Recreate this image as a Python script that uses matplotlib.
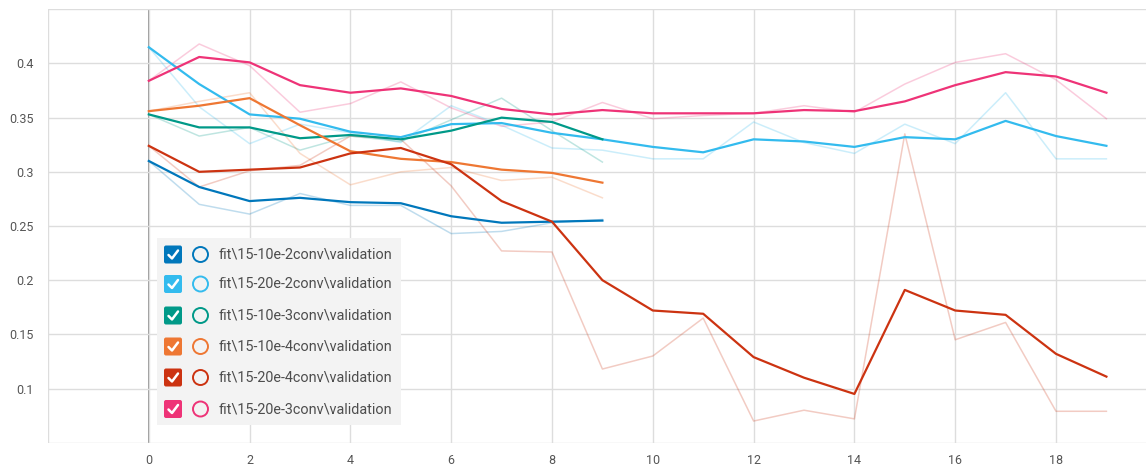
import matplotlib
matplotlib.use("Agg")
import matplotlib.pyplot as plt
from matplotlib.patches import Rectangle, FancyBboxPatch, Circle

# validation curves exported from the training runs (raw + smoothed)
run_names = [
    "fit\\15-10e-2conv\\validation",
    "fit\\15-20e-2conv\\validation",
    "fit\\15-10e-3conv\\validation",
    "fit\\15-10e-4conv\\validation",
    "fit\\15-20e-4conv\\validation",
    "fit\\15-20e-3conv\\validation",
]
run_colors = ["#0077bb", "#33bbee", "#009988", "#ee7733", "#cc3311", "#ee3377"]

steps_short = list(range(10))
steps_long = list(range(20))

raw_10e2 = [0.310, 0.270, 0.261, 0.280, 0.269, 0.269, 0.243, 0.245, 0.253, 0.256]
smooth_10e2 = [0.310, 0.286, 0.273, 0.276, 0.272, 0.271, 0.259, 0.253, 0.254, 0.255]

raw_20e2 = [0.415, 0.360, 0.326, 0.344, 0.336, 0.327, 0.361, 0.343, 0.322, 0.320,
            0.312, 0.312, 0.346, 0.327, 0.317, 0.344, 0.326, 0.373, 0.312, 0.312]
smooth_20e2 = [0.415, 0.381, 0.353, 0.349, 0.337, 0.332, 0.344, 0.345, 0.336, 0.330,
               0.323, 0.318, 0.330, 0.328, 0.323, 0.332, 0.330, 0.347, 0.333, 0.324]

raw_10e3 = [0.353, 0.333, 0.341, 0.320, 0.333, 0.328, 0.348, 0.368, 0.338, 0.309]
smooth_10e3 = [0.353, 0.341, 0.341, 0.331, 0.334, 0.330, 0.338, 0.350, 0.346, 0.330]

raw_10e4 = [0.356, 0.365, 0.373, 0.317, 0.288, 0.300, 0.304, 0.292, 0.295, 0.276]
smooth_10e4 = [0.356, 0.361, 0.368, 0.343, 0.319, 0.312, 0.309, 0.302, 0.299, 0.290]

raw_20e4 = [0.324, 0.286, 0.301, 0.306, 0.333, 0.330, 0.287, 0.227, 0.226, 0.118,
            0.130, 0.165, 0.070, 0.080, 0.072, 0.335, 0.145, 0.161, 0.079, 0.079]
smooth_20e4 = [0.324, 0.300, 0.302, 0.304, 0.317, 0.322, 0.307, 0.273, 0.254, 0.200,
               0.172, 0.169, 0.129, 0.110, 0.095, 0.191, 0.172, 0.168, 0.132, 0.111]

raw_20e3 = [0.384, 0.418, 0.398, 0.355, 0.363, 0.383, 0.359, 0.342, 0.346, 0.364,
            0.349, 0.352, 0.354, 0.361, 0.355, 0.381, 0.401, 0.409, 0.385, 0.349]
smooth_20e3 = [0.384, 0.406, 0.401, 0.380, 0.373, 0.377, 0.370, 0.358, 0.353, 0.357,
               0.354, 0.354, 0.354, 0.357, 0.356, 0.365, 0.380, 0.392, 0.388, 0.373]

x_ticks = list(range(0, 19, 2))
y_ticks = [0.1, 0.15, 0.2, 0.25, 0.3, 0.35, 0.4]

plt.rcParams["font.family"] = ["Roboto", "DejaVu Sans"]

W, H = 1146, 467
fig = plt.figure(figsize=(W / 100, H / 100), dpi=100)
ax = fig.add_axes([48 / W, 1 - 442.7 / H, 1 - 48 / W, 433.4 / H])

runs = [
    (steps_short, raw_10e2, smooth_10e2),
    (steps_long, raw_20e2, smooth_20e2),
    (steps_short, raw_10e3, smooth_10e3),
    (steps_short, raw_10e4, smooth_10e4),
    (steps_long, raw_20e4, smooth_20e4),
    (steps_long, raw_20e3, smooth_20e3),
]

# faint raw values underneath, smoothed curves on top
for (xs, raw, _), col in zip(runs, run_colors):
    ax.plot(xs, raw, color=col, lw=1.1, alpha=0.25, zorder=2)
for (xs, _, sm), col in zip(runs, run_colors):
    ax.plot(xs, sm, color=col, lw=1.6, zorder=3, solid_joinstyle="round")

ax.set_xlim(-2, (W - 148.8) / 50.4)
ax.set_ylim(0.05, 0.45)
ax.set_xticks(x_ticks)
ax.set_yticks(y_ticks)
ax.set_yticklabels([f"{v:g}" for v in y_ticks])
ax.set_xticks([-2], minor=True)
ax.set_yticks([0.05, 0.45], minor=True)
ax.grid(True, which="both", color="#dddddd", lw=1.0, zorder=0)
ax.axvline(0, color="#8c8c8c", lw=1.3, zorder=1)
ax.tick_params(which="both", length=0, labelsize=9, labelcolor="#555555")
ax.tick_params(axis="y", pad=10)
ax.tick_params(axis="x", pad=8)
for s in ax.spines.values():
    s.set_visible(False)

# run selector legend drawn in pixel coordinates
leg = fig.add_axes([0, 0, 1, 1], zorder=5)
leg.set_xlim(0, W)
leg.set_ylim(H, 0)
leg.axis("off")
leg.add_patch(Rectangle((157, 238), 244, 187, facecolor="#f3f3f3", edgecolor="none"))
row_y = [254.5, 284.0, 315.5, 346.5, 377.5, 409.0]
for name, col, yy in zip(run_names, run_colors, row_y):
    leg.add_patch(FancyBboxPatch((164, yy - 9), 18, 18,
                                 boxstyle="round,pad=0,rounding_size=2",
                                 facecolor=col, edgecolor="none"))
    leg.plot([168.5, 172.0, 178.0], [yy + 0.5, yy + 4.0, yy - 4.0],
             color="white", lw=1.8, solid_capstyle="round")
    leg.add_patch(Circle((200.5, yy), 7.5, facecolor="none", edgecolor=col, lw=1.4))
    leg.text(218.5, yy, name, fontsize=10.4, color="#4d4d4d", va="center", ha="left")

fig.savefig("out.png", dpi=100)
